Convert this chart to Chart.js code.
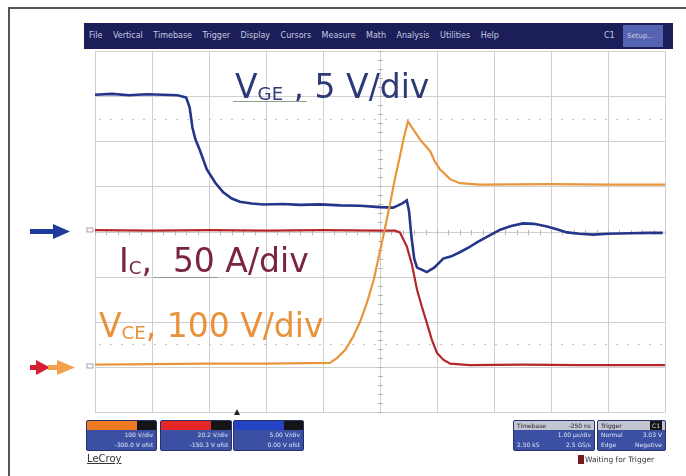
<!DOCTYPE html>
<html>
<head>
<meta charset="utf-8">
<script src="https://cdn.jsdelivr.net/npm/chart.js@4.4.1/dist/chart.umd.min.js"></script>
<style>
  body { margin: 0; background: #fff; }
  #wrap { position: relative; width: 686px; height: 476px; overflow: hidden; font-family: "DejaVu Sans", Verdana, sans-serif; }
  #scope { position: absolute; left: 0; top: 0; }
  .frameL { position: absolute; left: 8px; top: 7px; width: 2px; height: 480px; background: #555; }
  .frameT { position: absolute; left: 8px; top: 7px; width: 690px; height: 2px; background: #555; }
  .menu { position: absolute; left: 84px; top: 23px; width: 589px; height: 26px; background: #1b1e58; color: #c9cbe0; font-size: 8px; line-height: 26px; white-space: nowrap; }
  .menu span { margin-left: 5px; margin-right: 5.5px; }
  .menu .c1 { position: absolute; left: 520px; top: 0; margin: 0; }
  .menu .setup { position: absolute; left: 539px; top: 2px; width: 40px; height: 22px; line-height: 22px; background: #5564b0; padding-left: 4px; box-sizing: border-box; margin: 0; font-size: 7px; }
  .lbl { position: absolute; white-space: nowrap; line-height: 1; font-size: 33px; }
  .lbl sub { font-size: 0.55em; vertical-align: baseline; position: relative; top: 0.13em; }
  .box { position: absolute; top: 420px; height: 31px; border-radius: 2px; background: #3b4fa3; border: 1px solid #27316b; box-sizing: border-box; overflow: hidden; }
  .box .hd { height: 9px; }
  .box .ln { font-size: 6px; color: #e2e6f6; text-align: right; padding-right: 3px; line-height: 10px; white-space: nowrap; }
  .box .ln2 { font-size: 6px; color: #e2e6f6; line-height: 10px; padding: 0 3px; display: flex; justify-content: space-between; white-space: nowrap; }
  .box .hd2 { height: 9px; background: #c3c6d2; font-size: 6px; line-height: 9px; color: #222; padding: 0 3px; display: flex; justify-content: space-between; }
</style>
</head>
<body>
<div id="wrap">
  <canvas id="scope" width="686" height="476"></canvas>
  <div class="frameL"></div>
  <div class="frameT"></div>
  <div class="menu">
    <span>File</span><span>Vertical</span><span>Timebase</span><span>Trigger</span><span>Display</span><span>Cursors</span><span>Measure</span><span>Math</span><span>Analysis</span><span>Utilities</span><span>Help</span>
    <span class="c1">C1</span><span class="setup">Setup...</span>
  </div>

  <div class="lbl" style="left:235px;top:70px;color:#2d3a78;">V<sub>GE</sub> , 5 V/div</div>
  <div style="position:absolute;left:233px;top:101px;width:74px;height:1px;background:#8fa08a;"></div>
  <div class="lbl" style="left:119px;top:244px;color:#7a2440;">I<sub>C</sub>,&nbsp; 50 A/div</div>
  <div style="position:absolute;left:153px;top:277px;width:65px;height:1px;background:#8fa08a;"></div>
  <div class="lbl" style="left:99px;top:309px;color:#e8923c;">V<sub>CE</sub>, 100 V/div</div>

  <svg style="position:absolute;left:0;top:0" width="100" height="476">
    <rect x="30" y="229" width="26" height="5" fill="#1d3a9c"/>
    <polygon points="53,224 70,231.5 53,239" fill="#1d3a9c"/>
    <rect x="30" y="365" width="8" height="5" fill="#d41e32"/>
    <polygon points="36,360 50,367.5 36,375" fill="#d41e32"/>
    <rect x="48" y="365" width="10" height="5" fill="#f2a24a"/>
    <polygon points="57,360 75,367.5 57,375" fill="#f2a24a"/>
    <rect x="87" y="228" width="6" height="4" fill="none" stroke="#8a8a9a" stroke-width="0.8"/>
    <rect x="87" y="364" width="6" height="4" fill="none" stroke="#8a8a9a" stroke-width="0.8"/>
  </svg>

  <div style="position:absolute;left:234px;top:409px;width:0;height:0;border-left:3px solid transparent;border-right:3px solid transparent;border-bottom:6px solid #222;"></div>

  <div class="box" style="left:86px;width:71px;">
    <div class="hd" style="background:linear-gradient(to right,#f07a22 0 72%,#151515 72% 100%);"></div>
    <div class="ln">100 V/div</div>
    <div class="ln">-300.0 V ofst</div>
  </div>
  <div class="box" style="left:160px;width:72px;">
    <div class="hd" style="background:linear-gradient(to right,#e42626 0 72%,#151515 72% 100%);"></div>
    <div class="ln">20.2 V/div</div>
    <div class="ln">-150.3 V ofst</div>
  </div>
  <div class="box" style="left:233px;width:71px;">
    <div class="hd" style="background:linear-gradient(to right,#2443c4 0 72%,#151515 72% 100%);"></div>
    <div class="ln">5.00 V/div</div>
    <div class="ln">0.00 V ofst</div>
  </div>
  <div class="box" style="left:513px;width:82px;">
    <div class="hd2"><span>Timebase</span><span>-250 ns</span></div>
    <div class="ln">1.00 &micro;s/div</div>
    <div class="ln2"><span>2.50 kS</span><span>2.5 GS/s</span></div>
  </div>
  <div class="box" style="left:597px;width:69px;">
    <div class="hd2"><span>Trigger</span><span style="background:#151515;color:#ddd;padding:0 2px;">C1</span></div>
    <div class="ln2"><span>Normal</span><span>3.03 V</span></div>
    <div class="ln2"><span>Edge</span><span>Negative</span></div>
  </div>

  <div style="position:absolute;left:87px;top:453px;font-size:10px;color:#333;text-decoration:underline;">LeCroy</div>
  <div style="position:absolute;left:578px;top:455px;width:6px;height:9px;background:#7c1820;"></div>
  <div style="position:absolute;left:585px;top:455px;font-size:7.5px;color:#333;white-space:nowrap;">Waiting for Trigger</div>
</div>

<script>
// time in divisions (0..10), amplitude in divisions (-4..4)
const vgeT = [0, 0.3, 0.6, 0.9, 1.2, 1.45, 1.6, 1.66, 1.71, 1.76, 1.84, 1.96, 2.11, 2.25, 2.4, 2.54, 2.75, 2.95, 3.3, 3.6, 3.95, 4.3, 4.65, 5.0, 5.23, 5.32, 5.4, 5.47, 5.51, 5.55, 5.6, 5.65, 5.74, 5.82, 5.95, 6.11, 6.25, 6.4, 6.55, 6.7, 6.9, 7.11, 7.3, 7.51, 7.7, 7.93, 8.1, 8.28, 8.5, 8.74, 9.0, 9.39, 9.7, 9.96];
const vgeV = [3.03, 3.05, 3.02, 3.04, 3.03, 3.02, 2.97, 2.75, 2.3, 2.05, 1.8, 1.38, 1.08, 0.87, 0.73, 0.66, 0.62, 0.6, 0.61, 0.59, 0.6, 0.58, 0.57, 0.54, 0.53, 0.58, 0.63, 0.69, 0.45, -0.1, -0.6, -0.8, -0.85, -0.9, -0.8, -0.6, -0.55, -0.46, -0.36, -0.24, -0.1, 0.04, 0.12, 0.18, 0.17, 0.11, 0.05, -0.02, -0.05, -0.07, -0.05, -0.04, -0.03, -0.03];

const icT = [0, 1, 2, 3, 4, 5, 5.26, 5.35, 5.47, 5.56, 5.65, 5.74, 5.82, 5.91, 6.0, 6.11, 6.23, 6.58, 7.5, 8.5, 10];
const icV = [0.03, 0.02, 0.03, 0.02, 0.03, 0.02, 0.02, -0.02, -0.33, -0.73, -1.29, -1.69, -2.02, -2.4, -2.69, -2.84, -2.93, -2.96, -2.95, -2.96, -2.96];

const vceT = [0, 1, 2, 3, 4.12, 4.25, 4.39, 4.53, 4.65, 4.77, 4.89, 5.0, 5.09, 5.18, 5.26, 5.35, 5.42, 5.49, 5.56, 5.7, 5.79, 5.88, 5.96, 6.05, 6.23, 6.4, 6.75, 8, 9, 10];
const vceV = [-2.95, -2.94, -2.93, -2.93, -2.91, -2.8, -2.62, -2.33, -2.0, -1.58, -1.07, -0.44, 0.09, 0.64, 1.16, 1.67, 2.09, 2.44, 2.31, 2.04, 1.91, 1.78, 1.56, 1.38, 1.16, 1.07, 1.04, 1.05, 1.04, 1.04];

const xDivs = 10;
const yDivs = 4;

function pts(t, v) {
  return t.map((x, i) => ({ x: x, y: v[i] }));
}

// scope graticule, drawn under the traces
const graticule = {
  id: 'graticule',
  beforeDatasetsDraw(chart) {
    const { ctx, chartArea: a, scales: { x, y } } = chart;
    ctx.save();
    ctx.strokeStyle = '#cfcfcf';
    ctx.lineWidth = 1;
    for (let i = 0; i <= xDivs; i++) {
      const px = Math.round(x.getPixelForValue(i)) + 0.5;
      ctx.beginPath(); ctx.moveTo(px, a.top); ctx.lineTo(px, a.bottom); ctx.stroke();
    }
    for (let j = -yDivs; j <= yDivs; j++) {
      const py = Math.round(y.getPixelForValue(j)) + 0.5;
      ctx.beginPath(); ctx.moveTo(a.left, py); ctx.lineTo(a.right, py); ctx.stroke();
    }
    // minor ticks on centre lines
    ctx.strokeStyle = '#b5b5b5';
    const cx = Math.round(x.getPixelForValue(xDivs / 2)) + 0.5;
    const cy = Math.round(y.getPixelForValue(0)) + 0.5;
    for (let k = 0; k <= xDivs * 5; k++) {
      const px = Math.round(x.getPixelForValue(k / 5)) + 0.5;
      ctx.beginPath(); ctx.moveTo(px, cy - 2.5); ctx.lineTo(px, cy + 2.5); ctx.stroke();
    }
    for (let k = -yDivs * 5; k <= yDivs * 5; k++) {
      const py = Math.round(y.getPixelForValue(k / 5)) + 0.5;
      ctx.beginPath(); ctx.moveTo(cx - 2.5, py); ctx.lineTo(cx + 2.5, py); ctx.stroke();
    }
    // dotted cursor lines
    ctx.setLineDash([2, 9]);
    ctx.strokeStyle = '#c4c4c4';
    [2.5, -2.5].forEach(v => {
      const py = Math.round(y.getPixelForValue(v)) + 0.5;
      ctx.beginPath(); ctx.moveTo(a.left + 4, py); ctx.lineTo(a.right, py); ctx.stroke();
    });
    ctx.restore();
  }
};

new Chart(document.getElementById('scope'), {
  type: 'scatter',
  data: {
    datasets: [
      { label: 'VCE', data: pts(vceT, vceV), showLine: true, borderColor: '#e8953c', borderWidth: 2.2, pointRadius: 0 },
      { label: 'IC', data: pts(icT, icV), showLine: true, borderColor: '#b3262c', borderWidth: 2.2, pointRadius: 0 },
      { label: 'VGE', data: pts(vgeT, vgeV), showLine: true, borderColor: '#24358a', borderWidth: 2.6, pointRadius: 0 }
    ]
  },
  options: {
    responsive: false,
    animation: false,
    layout: { padding: { left: 95, top: 51, right: 21, bottom: 64 } },
    plugins: { legend: { display: false }, tooltip: { enabled: false } },
    scales: {
      x: { type: 'linear', min: 0, max: xDivs, display: false },
      y: { type: 'linear', min: -yDivs, max: yDivs, display: false }
    }
  },
  plugins: [graticule]
});
</script>
</body>
</html>
